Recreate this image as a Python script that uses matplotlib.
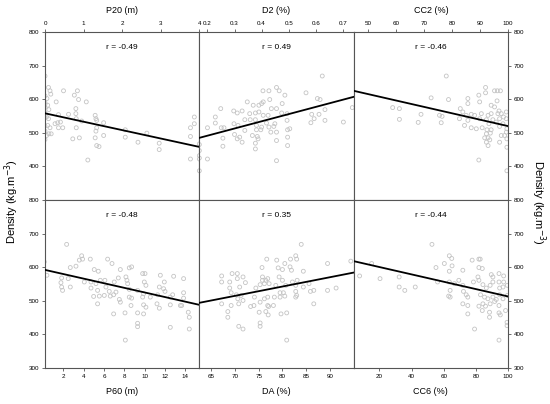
import matplotlib
matplotlib.use("Agg")
import matplotlib.pyplot as plt
import numpy as np

plt.rcParams['font.family'] = ['Liberation Sans', 'DejaVu Sans']

# ---------------- data ----------------
p20_x = [0.09,0.13,0.15,0.48,0.84,0.76,0.87,1.07,0.29,0.05,0.07,0.1,0.04,0.09,0.07,0.13,0.1,0.04,
         0.35,0.61,0.8,0.8,0.81,0.33,0.26,0.4,0.35,0.46,0.16,0.95,0.81,0.72,0.89,1.11,1.3,1.32,1.34,
         1.52,1.34,1.32,1.52,1.3,1.34,1.4,2.08,2.08,2.41,2.64,2.96,2.96,3.87,3.87,3.77,3.77,4.0,3.77,
         4.0,4.0,4.0,0.0,0.0,0.0,0.0,0.0,0.0,0.0,0.0,0.0,0.0]
p20_y = [635,625,615,625,625,612,599,592,592,602,582,569,547,542,522,515,497,492,
         554,555,572,557,542,530,527,532,515,515,497,535,515,482,485,419,552,542,537,
         530,515,505,492,485,462,459,509,487,472,499,469,450,547,527,515,489,467,422,
         432,422,387,669,560,575,585,590,505,520,545,610,480]

d2_x = [0.624,0.455,0.405,0.427,0.465,0.486,0.564,0.606,0.616,0.43,0.406,0.347,0.369,0.39,0.4,0.476,
        0.249,0.436,0.455,0.297,0.31,0.328,0.356,0.377,0.39,0.406,0.424,0.474,0.494,0.585,0.612,0.634,
        0.634,0.594,0.582,0.702,0.735,0.229,0.229,0.338,0.358,0.377,0.418,0.449,0.494,0.298,0.313,0.381,
        0.251,0.261,0.2,0.4,0.427,0.445,0.338,0.381,0.397,0.434,0.455,0.496,0.504,0.3,0.319,0.366,0.384,
        0.257,0.31,0.328,0.377,0.387,0.455,0.496,0.257,0.377,0.496,0.455,0.2,0.17,0.17,0.17,0.17]
d2_y = [669,635,625,625,625,612,619,602,599,599,592,592,582,582,587,587,
        572,572,572,565,559,565,557,559,562,552,552,559,557,555,555,569,
        537,542,530,532,575,547,529,539,539,539,529,527,537,527,522,522,
        515,515,515,517,517,519,507,509,509,502,502,509,512,495,487,492,489,
        484,482,472,469,482,477,487,460,452,462,417,422,465,447,425,387]

cc2_x = [78,92,92,89.6,95.2,96.2,97.3,72.6,78.8,85.7,85.7,89.9,96.1,94,95.2,96.8,97.6,99.4,58.9,61.3,
         69,75.6,76.5,83,83.9,85.1,86.9,88.1,90.5,92.9,94,96.4,98.4,99.4,61.3,68,76.2,82.7,85.7,89.9,
         92.3,94.6,97,84.5,86.9,88.7,90.8,93.2,95.8,97,98.2,92.5,94,92.3,93.7,97.6,98.8,99.4,91.7,92.9,
         93.5,92.3,97,92.9,89.6,99.6,99.6,99.6,99.6]
cc2_y = [669,635,619,612,625,625,625,604,599,602,587,592,595,582,577,565,557,562,575,572,
         555,552,549,572,562,552,555,552,557,552,557,557,547,542,540,531,530,542,537,542,
         539,539,542,522,515,512,515,527,532,519,527,509,509,497,499,492,492,502,485,485,
         479,472,472,462,419,457,387,482,512]

p60_x = [2.33,0.13,0.39,3.81,3.58,3.9,4.66,6.37,6.8,2.69,3.25,5.05,5.45,7.62,8.5,8.73,8.17,1.84,2.49,
         4.07,4.73,5.22,5.65,6.1,7.02,7.42,8.27,8.34,9.82,10.05,9.98,10.14,11.56,11.95,12.87,13.85,
         1.77,1.84,1.93,2.69,4.73,5.38,6.2,6.53,7.19,8.5,9.32,9.91,11.46,11.88,12.02,4.99,5.55,6.04,
         6.63,6.96,7.52,8.5,8.73,9.82,10.57,11.29,12.54,12.77,13.85,13.85,5.38,7.62,8.67,9.91,10.14,
         11.23,11.46,12.54,13.53,13.66,14.31,6.96,8.08,9.32,9.91,9.32,9.32,12.54,14.41,14.41,8.11]
p60_y = [668,616,576,634,621,624,624,624,611,599,603,593,588,593,598,601,571,568,566,
         556,556,551,561,561,556,568,561,551,581,581,556,546,576,556,573,566,
         554,541,531,541,538,531,541,528,526,534,531,521,541,536,528,513,514,516,
         514,518,504,511,508,511,511,518,511,518,524,508,491,496,486,488,481,
         491,478,488,486,486,466,461,464,464,461,433,423,421,451,416,383]

da_x = [83.96,94.4,76.7,78.8,80.5,81.7,82.8,83,75.7,79.1,80,81.6,81.9,84.4,89.5,67.2,69.4,70.5,71.7,
        70.5,67.2,68.9,72.2,75.8,75.8,76.5,76.9,76.2,77.2,79.3,80,82.1,83.1,68.9,71,74.4,75.3,78.6,
        80.7,82.8,84.4,85.6,91.3,69.2,70.3,71.3,70.6,71.7,74.1,76.2,76.9,78.3,79.5,80.2,80.5,79.5,
        82.8,83,82.8,85.9,86.6,89.5,67.2,69.2,70.8,73.3,74,75.3,76.9,77.1,78.1,86.6,68.5,68.5,75.1,
        76.5,77,79.7,80.9,70.8,71.7,75.3,75.3,80.9]
da_y = [668,618,624,621,611,624,634,624,599,598,593,601,591,588,611,574,581,581,571,
        566,556,556,554,571,561,561,566,551,551,571,561,556,561,538,541,538,548,546,
        546,546,541,551,538,524,518,516,506,501,511,506,511,511,524,524,514,511,
        528,516,511,528,531,531,491,486,491,483,486,496,486,483,486,491,468,451,466,
        468,458,461,464,424,416,434,424,383]

cc6_x = [52.7,63.5,65,81.9,82.7,77.7,60.4,55.2,65.2,81.9,84,63.5,71.9,15.2,7.7,20.4,32.3,42.3,32.3,
         35.8,56.2,63.5,66.7,69.4,71.9,78.5,81.9,81.3,89.6,90.6,94.4,97.3,90.6,94.4,97.3,84.4,86.5,
         88.9,94.8,96.9,99.6,64,72.3,74,75,82.9,85.4,87.5,90.6,92.7,94.8,96.9,99.6,63.1,64,71.9,75,
         81.9,84.4,86,88.9,91.7,94.4,84,88.5,94.4,95.2,88.5,75,98.5,99.4,99.4,79.2,94.4]
cc6_y = [668,634,626,624,624,621,611,599,604,599,596,588,591,611,574,566,571,541,541,
         531,556,556,551,561,546,556,561,571,578,571,581,574,556,556,556,548,538,
         546,538,541,546,531,528,518,511,518,511,506,511,504,518,506,516,514,511,491,486,
         484,491,484,491,498,486,471,466,464,458,451,461,471,436,426,416,383]

# regression line end values (density at left and right end of each panel)
line_y0 = [558, 485, 625, 592, 494, 618]
line_y1 = [458, 607, 520, 488, 584, 513]
r_labels = ["r = -0.49", "r = 0.49", "r = -0.46", "r = -0.48", "r = 0.35", "r = -0.44"]
x_labels = ["P20 (m)", "D2 (%)", "CC2 (%)", "P60 (m)", "DA (%)", "CC6 (%)"]
x_limits = [(0, 4), (0.17, 0.74), (45, 100), (0.2, 15.4), (62.5, 95), (4, 100)]
x_ticks = [[0, 1, 2, 3, 4], [0.2, 0.3, 0.4, 0.5, 0.6, 0.7], [50, 60, 70, 80, 90, 100],
           [2, 4, 6, 8, 10, 12, 14], [65, 70, 75, 80, 85, 90], [20, 40, 60, 80, 100]]
x_ticklabels = [["0", "1", "2", "3", "4"], ["0.2", "0.3", "0.4", "0.5", "0.6", "0.7"],
                ["50", "60", "70", "80", "90", "100"], ["2", "4", "6", "8", "10", "12", "14"],
                ["65", "70", "75", "80", "85", "90"], ["20", "40", "60", "80", "100"]]
y_ticks_top = [400, 500, 600, 700, 800]
y_ticks_bottom = [300, 400, 500, 600, 700, 800]

xs = [p20_x, d2_x, cc2_x, p60_x, da_x, cc6_x]
ys = [p20_y, d2_y, cc2_y, p60_y, da_y, cc6_y]

# ---------------- figure ----------------
fig = plt.figure(figsize=(5.5, 4.04), dpi=100)
gs = fig.add_gridspec(2, 3, left=45/550, right=508/550, top=1-32/404, bottom=1-368/404,
                      wspace=0, hspace=0)
spine_col = '#555555'
for i in range(6):
    row, col = divmod(i, 3)
    ax = fig.add_subplot(gs[row, col])
    ax.scatter(xs[i], ys[i], s=8, facecolors='none', edgecolors='#c4c4c4', linewidths=0.6, zorder=2)
    ax.plot(x_limits[i], [line_y0[i], line_y1[i]], color='black', lw=1.3, zorder=3)
    ax.set_xlim(*x_limits[i])
    ax.set_ylim(300, 800)
    ax.text(0.5, 0.905, r_labels[i], transform=ax.transAxes, ha='center', va='center', fontsize=6)
    for s in ax.spines.values():
        s.set_color(spine_col)
        s.set_linewidth(0.8)
    ax.set_xticks(x_ticks[i])
    ax.set_xticklabels(x_ticklabels[i])
    ax.tick_params(axis='both', labelsize=4.5, length=2.5, width=0.6, color=spine_col, pad=1.5)
    if row == 0:
        ax.xaxis.tick_top()
        ax.xaxis.set_label_position('top')
        ax.set_xlabel(x_labels[i], fontsize=6.5, labelpad=6)
        yt = y_ticks_top
    else:
        ax.set_xlabel(x_labels[i], fontsize=6.5, labelpad=6)
        yt = y_ticks_bottom
    ax.set_yticks(yt)
    if col == 0:
        ax.set_yticklabels([str(v) for v in yt])
    elif col == 2:
        ax.yaxis.tick_right()
        ax.set_yticklabels([str(v) for v in yt])
    else:
        ax.tick_params(axis='y', left=False, labelleft=False)

fig.text(12/550, 0.5, 'Density (kg.m$^{-3}$)', rotation=90, ha='center', va='center', fontsize=8)
fig.text(538/550, 0.5, 'Density (kg.m$^{-3}$)', rotation=270, ha='center', va='center', fontsize=8)

fig.savefig('out.png', dpi=100)
